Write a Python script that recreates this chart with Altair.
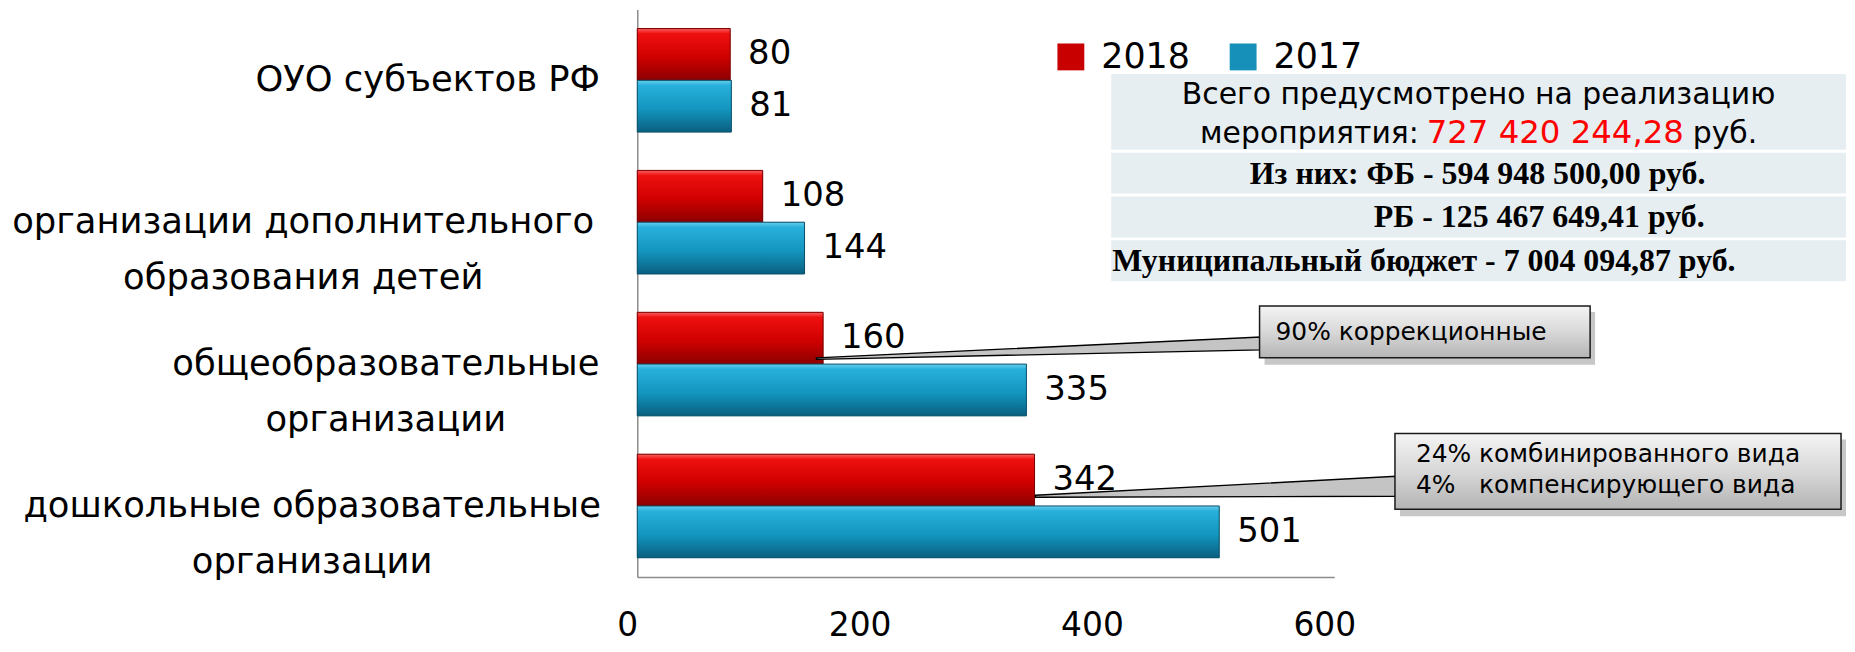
import altair as alt
import pandas as pd

# ---------------- data ----------------
categories = [
    "ОУО субъектов РФ",
    "организации дополнительного|образования детей",
    "общеобразовательные|организации",
    "дошкольные образовательные|организации",
]
years = ["2018", "2017"]
values_2018 = [80, 108, 160, 342]
values_2017 = [81, 144, 335, 501]
x_ticks = [0, 200, 400, 600]

info_line1 = "Всего предусмотрено на реализацию"
info_line2_prefix = "мероприятия:"
info_total = "727 420 244,28"
info_unit = "руб."
info_fb = "Из них: ФБ - 594 948 500,00 руб."
info_rb = "РБ - 125 467 649,41 руб."
info_mb = "Муниципальный бюджет - 7 004 094,87 руб."
callout_1 = ["90% коррекционные"]
callout_2 = ["24% комбинированного вида", "4%\u00a0\u00a0\u00a0компенсирующего вида"]

rows = []
for c, v18, v17 in zip(categories, values_2018, values_2017):
    rows.append({"category": c, "year": years[0], "value": v18})
    rows.append({"category": c, "year": years[1], "value": v17})
df = pd.DataFrame(rows)

# ---------------- styles / layout ----------------
SANS = "DejaVu Sans"
SERIF = "Liberation Serif"
RED = "#C80000"
BLUE = "#1690B8"
AXIS_GREY = "#8C8C8C"
# distance from axis to the centre of each category label block
LABEL_CENTER_DIST = [211, 336, 253, 327]


def grad(stops):
    return alt.Gradient(
        gradient="linear", x1=0, y1=0, x2=0, y2=1,
        stops=[alt.GradientStop(offset=o, color=c) for o, c in stops],
    )


red_grad = grad([(0, "#F76060"), (0.1, "#EE1010"), (0.55, "#D00000"), (1, "#8C0000")])
blue_grad = grad([(0, "#66CFEC"), (0.1, "#28B0DB"), (0.55, "#1396BF"), (1, "#0A5F80")])
box_grad = grad([(0, "#F4F4F4"), (0.5, "#D8D8D8"), (1, "#B4B4B4")])

pad_conditions = [
    {"test": f"datum.value == '{c}'", "value": d}
    for c, d in zip(categories, LABEL_CENTER_DIST)
]

x_enc = alt.X(
    "value:Q",
    scale=alt.Scale(domain=[0, 600], nice=False, zero=True),
    axis=alt.Axis(
        values=x_ticks, title=None, grid=False, ticks=False,
        domainColor=AXIS_GREY, domainWidth=1.5,
        labelFont=SANS, labelFontSize=33, labelColor="black",
        labelPadding=33, labelOffset=-10, labelFlush=False,
    ),
)
y_enc = alt.Y(
    "category:N",
    sort=categories,
    scale=alt.Scale(domain=categories, paddingInner=0.27, paddingOuter=0.135),
    axis=alt.Axis(
        title=None, ticks=False, domainColor=AXIS_GREY, domainWidth=1.5,
        labelFont=SANS, labelFontSize=35.5, labelColor="black",
        labelAlign="center", labelBaseline="middle",
        labelPadding={"condition": pad_conditions, "value": 211},
        labelLineHeight=56, labelExpr="split(datum.label, '|')", labelLimit=0,
    ),
)
yoff_enc = alt.YOffset(
    "year:N", sort=years,
    scale=alt.Scale(domain=years, paddingInner=0, paddingOuter=0),
)

base_bars = alt.Chart(df).mark_bar().encode(
    x=x_enc, y=y_enc, yOffset=yoff_enc,
    color=alt.Color(
        "year:N", sort=years,
        scale=alt.Scale(domain=years, range=[RED, BLUE]),
        legend=alt.Legend(
            orient="none", legendX=418, legendY=30, direction="horizontal",
            title=None, labelFont=SANS, labelFontSize=35, labelColor="black",
            symbolType="square", symbolSize=729, symbolStrokeWidth=0,
            symbolOpacity=1, labelOffset=13, columnPadding=35, padding=0,
        ),
    ),
)
red_bars = alt.Chart(df).transform_filter(alt.datum.year == years[0]).mark_bar(
    fill=red_grad, stroke="#7A0000", strokeWidth=1
).encode(x=x_enc, y=y_enc, yOffset=yoff_enc)
blue_bars = alt.Chart(df).transform_filter(alt.datum.year == years[1]).mark_bar(
    fill=blue_grad, stroke="#0B4F68", strokeWidth=1
).encode(x=x_enc, y=y_enc, yOffset=yoff_enc)
value_text = alt.Chart(df).mark_text(
    align="left", baseline="middle", dx=18, font=SANS, fontSize=34, color="black"
).encode(x=x_enc, y=y_enc, yOffset=yoff_enc, text="value:Q")

inner = alt.layer(base_bars, red_bars, blue_bars, value_text)


# ---------------- annotations (pixel layout) ----------------
def one(text):
    return pd.DataFrame({"t": [text]})


def txt(text, x, y, size, align="left", baseline="alphabetic", color="black",
        font=SANS, weight="normal"):
    return alt.Chart(one(text)).mark_text(
        align=align, baseline=baseline, font=font, fontSize=size,
        fontWeight=weight, color=color,
    ).encode(x=alt.value(x), y=alt.value(y), text="t:N")


def rect(x0, x1, y0, y1, **kw):
    return alt.Chart(one("")).mark_rect(**kw).encode(
        x=alt.value(x0), x2=alt.value(x1), y=alt.value(y0), y2=alt.value(y1)
    )


info_rows = pd.DataFrame({"y0": [65, 144, 188, 232], "y1": [141, 185, 229, 273]})
info_bg = alt.Chart(info_rows).mark_rect(fill="#E6EEF2").encode(
    x=alt.value(476), x2=alt.value(1214),
    y=alt.Y("y0:Q", scale=None), y2="y1:Q",
)
info_layers = [
    info_bg,
    txt(info_line1, 845, 95, 30, align="center"),
    txt(info_line2_prefix, 785, 134, 30, align="right"),
    txt(info_total, 922, 134, 32.5, align="center", color="#FF0000"),
    txt(info_unit, 1060, 134, 30, align="left"),
    txt(info_fb, 844, 175, 32, align="center", font=SERIF, weight="bold"),
    txt(info_rb, 1072, 219, 32, align="right", font=SERIF, weight="bold"),
    txt(info_mb, 477, 263, 32, align="left", font=SERIF, weight="bold"),
]


def wedge(x_tip, y_tip_top, y_tip_bot, x_base, y_base_top, y_base_bot):
    w = pd.DataFrame({
        "x": [x_tip, x_base], "y": [y_tip_top, y_base_top], "y2": [y_tip_bot, y_base_bot]
    })
    return alt.Chart(w).mark_area(
        fill="#C4C4C4", stroke="black", strokeWidth=1.4, interpolate="linear"
    ).encode(
        x=alt.X("x:Q", scale=None), y=alt.Y("y:Q", scale=None), y2="y2:Q"
    )


callout_layers = [
    wedge(180, 350, 351.5, 626, 329, 342),
    rect(630, 962, 304, 357, fill="#000000", opacity=0.22),
    rect(625, 957, 298, 350, fill=box_grad, stroke="#1A1A1A", strokeWidth=1.5),
    txt(callout_1[0], 641, 324, 25, baseline="middle"),
    wedge(400, 488, 490, 762, 469, 489),
    rect(766, 1214, 432, 509, fill="#000000", opacity=0.22),
    rect(761, 1209, 426, 502, fill=box_grad, stroke="#1A1A1A", strokeWidth=1.5),
    txt(callout_2[0], 782, 447, 25, baseline="middle"),
    txt(callout_2[1], 782, 478, 25, baseline="middle"),
]

chart = alt.layer(inner, *info_layers, *callout_layers).resolve_scale(
    x="independent", y="independent"
).properties(
    width=700,
    height=570,
    padding={"left": 632, "top": 0, "right": 515, "bottom": 66},
    autosize=alt.AutoSizeParams(type="none"),
    background="white",
).configure_view(stroke=None)

chart.save("out.html", embed_options={"renderer": "svg", "actions": False})
